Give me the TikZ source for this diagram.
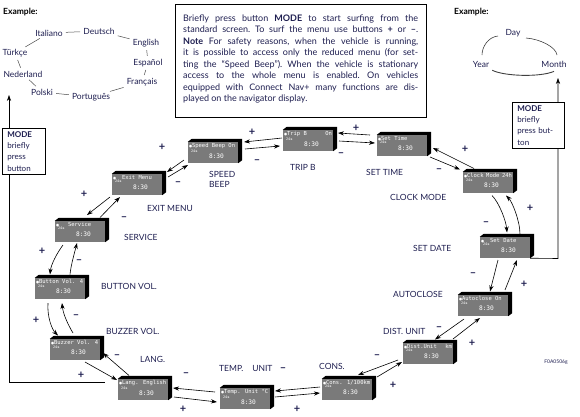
\documentclass[tikz,border=0pt]{standalone}
\usepackage{fontspec}
\setmainfont{Lato}
\newfontfamily\lcdf{DejaVu Sans Mono}
\newfontfamily\symf{DejaVu Sans}
\usetikzlibrary{calc,arrows.meta}
\definecolor{ink}{RGB}{30,30,80}
\definecolor{lcdgray}{RGB}{122,122,122}
\newcommand\lcd[1]{%
 \parbox[t][19pt][t]{48pt}{\lcdf\fontsize{5.5}{5.5}\selectfont
 \leavevmode{\symf\fontsize{3.5}{3.5}\selectfont ●}#1\par
 \vspace{0.3pt}{\fontsize{3.5}{3.5}\selectfont\hspace*{2pt}24\,{\symf ▸}\par}
 \vspace{1pt}\hspace*{20pt}{\fontsize{6.2}{6.2}\selectfont 8:30}\par}}
\begin{document}
\begin{tikzpicture}[x=1pt,y=-1pt,
 disp/.style={fill=lcdgray, minimum width=50pt, minimum height=21pt, inner sep=1pt, text=white},
 arr/.style={line width=0.6pt, -{Stealth[length=6pt,width=4.2pt]}},
 lab/.style={text=ink, font=\fontsize{8.5}{10.5}\selectfont, inner sep=0pt, anchor=west, align=left},
 pm/.style={text=ink, font=\fontsize{11}{11}\selectfont\bfseries, inner sep=0pt},
 exw/.style={text=ink, font=\fontsize{8.5}{10}\selectfont, inner sep=1pt},
 exl/.style={draw=black!70, line width=0.5pt, shorten <=2pt, shorten >=2pt},
 exarc/.style={draw=black!75, line width=0.6pt},
 modebox/.style={draw, fill=white, line width=0.7pt, anchor=north west, inner xsep=5pt, inner ysep=3pt, align=left, font=\fontsize{8}{11.3}\selectfont, text=ink}]
\useasboundingbox (0,0) rectangle (580,416);

% ---------- example left ----------
\node[font=\fontsize{8.5}{10}\selectfont\bfseries, anchor=west, inner sep=0] (exL) at (3,12) {Example:};
\node[exw] (ital) at (49,33) {Italiano};
\node[exw] (deut) at (99,31) {Deutsch};
\node[exw] (engl) at (146,43) {English};
\node[exw] (espa) at (148,63) {Español};
\node[exw] (fran) at (142,82) {Français};
\node[exw] (port) at (91,97) {Português};
\node[exw] (pols) at (42,92) {Polski};
\node[exw] (nede) at (23,74) {Nederland};
\node[exw] (turk) at (15,53) {Türkçe};
\draw[exl] (ital) -- (deut);
\draw[exl] (deut) -- (engl);
\draw[exl] (engl) -- (espa);
\draw[exl] (espa) -- (fran);
\draw[exl] (fran) -- (port);
\draw[exl] (port) -- (pols);
\draw[exl] (pols) -- (nede);
\draw[exl] (nede) -- (turk);
\draw[exl] (turk) -- (ital);

% ---------- example right ----------
\node[font=\fontsize{8.5}{10}\selectfont\bfseries, anchor=west, inner sep=0] (exR) at (454,12) {Example:};
\node[exw] (day) at (513,33) {Day};
\node[exw] (year) at (481,64) {Year};
\node[exw] (month) at (554,64) {Month};
\draw[exarc] ($(day)+(-15,3)$) .. controls +(-10,1) and +(0,-8) .. ($(year)+(1,-9)$);
\draw[exarc] ($(day)+(13,5)$) .. controls +(14,1) and +(-1,-8) .. ($(month)+(3,-9)$);
\draw[black!75, line width=0.9pt] ($(year.south east)+(2,2)$) .. controls +(12,6) and +(-14,6) .. ($(month.south)+(0,3)$);

% ---------- info box ----------
\node[draw, line width=0.8pt, anchor=north west, minimum width=251pt, minimum height=113pt, inner sep=0] (info) at (175,4) {};
\node[anchor=north west, text width=235pt, inner sep=0, align=justify, text=ink, font=\fontsize{9}{11.5}\selectfont\frenchspacing] (infotext) at (183,14.5)
{Briefly press button \textbf{MODE} to start surfing from the\linebreak
standard screen. To surf the menu use buttons \textbf{+} or \textbf{--}.\linebreak
\textbf{Note} For safety reasons, when the vehicle is running,\linebreak
it is possible to access only the reduced menu (for set-\linebreak
ting the “Speed Beep”). When the vehicle is stationary\linebreak
access to the whole menu is enabled. On vehicles\linebreak
equipped with Connect Nav+ many functions are dis-\linebreak
played on the navigator display.};

% ---------- displays ----------
\node[disp] (speed) at (213,152.5) {\lcd{Speed Beep On}};
\node[disp] (trip) at (308,140.5) {\lcd{Trip B\hfill On}};
\node[disp] (settime) at (402,145.5) {\lcd{Set Time}};
\node[disp] (clock) at (488,182.5) {\lcd{Clock Mode 24h}};
\node[disp] (exit) at (137,184.5) {\lcd{\hspace*{6pt}Exit Menu}};
\node[disp] (service) at (80,231.5) {\lcd{\hspace*{9pt}Service}};
\node[disp] (button) at (60,288.5) {\lcd{Button Vol. 4}};
\node[disp] (buzzer) at (75,349.5) {\lcd{Buzzer Vol. 4}};
\node[disp] (lang) at (143,389.5) {\lcd{Lang. English}};
\node[disp] (temp) at (245,398.5) {\lcd{Temp. Unit °C}};
\node[disp] (cons) at (347,389.5) {\lcd{Cons. 1/100km}};
\node[disp] (dist) at (428,353.5) {\lcd{Dist.Unit\hfill km}};
\node[disp] (autoclose) at (483,305.5) {\lcd{Autoclose On}};
\node[disp] (setdate) at (505,247.5) {\lcd{\hspace*{6pt}Set Date}};
\foreach \n in {speed,trip,settime,clock,exit,service,button,buzzer,lang,temp,cons,dist,autoclose,setdate}
 \fill[black] (\n.north west) -- ++(4,-3) -- ($(\n.north east)+(4,-3)$) -- ($(\n.south east)+(4,-3)$) -- (\n.south east) -- (\n.north east) -- cycle;

% ---------- arrows ----------
\draw[arr] ($(speed)+(-29,7.5)$) -- ($(exit)+(30,-12.5)$);
\draw[arr] ($(exit)+(31,-7.5)$) -- ($(speed)+(-25,12.5)$);
\draw[arr] ($(trip)+(-26,-2.5)$) -- ($(speed)+(31,-10.5)$);
\draw[arr] ($(speed)+(32,-3.5)$) -- ($(trip)+(-28,5.5)$);
\draw[arr] ($(settime)+(-32,-10.5)$) -- ($(trip)+(30,-7.5)$);
\draw[arr] ($(trip)+(31,0.5)$) -- ($(settime)+(-27,-2.5)$);
\draw[arr] ($(clock)+(-14,-14)$) -- ($(settime)+(31,2.5)$);
\draw[arr] ($(settime)+(28,11.5)$) -- ($(clock)+(-28,-13)$);
\draw[arr] ($(clock)+(4,13)$) .. controls +(7,7) and +(-1,-12) .. ($(setdate)+(2,-15)$);
\draw[arr] ($(setdate)+(15,-13)$) .. controls +(0,-14) and +(6,6) .. ($(clock)+(18,13)$);
\draw[arr] ($(setdate)+(-7,12.5)$) -- ($(autoclose)+(7,-14)$);
\draw[arr] ($(autoclose)+(22,-15.5)$) -- ($(setdate)+(12,12.5)$);
\draw[arr] ($(autoclose)+(-19,13.5)$) -- ($(dist)+(7,-14)$);
\draw[arr] ($(dist)+(25,-14.5)$) -- ($(autoclose)+(-3,12.5)$);
\draw[arr] ($(dist)+(-30,6.5)$) -- ($(cons)+(11,-14.5)$);
\draw[arr] ($(cons)+(30,-12.5)$) -- ($(dist)+(-26,8.5)$);
\draw[arr] ($(cons)+(-27,-2.5)$) -- ($(temp)+(30,-7.5)$);
\draw[arr] ($(temp)+(30,-1.5)$) -- ($(cons)+(-27,3.5)$);
\draw[arr] ($(temp)+(-30,-6.5)$) -- ($(lang)+(30,-1.5)$);
\draw[arr] ($(lang)+(31,7.5)$) -- ($(temp)+(-28,3.5)$);
\draw[arr] ($(lang)+(-14,-14)$) -- ($(buzzer)+(28,3.5)$);
\draw[arr] ($(buzzer)+(10,12.5)$) -- ($(lang)+(-26,-9.5)$);
\draw[arr] ($(button)+(-12,14.5)$) .. controls +(-1,14) and +(-6,-6) .. ($(buzzer)+(-17,-14)$);
\draw[arr] ($(buzzer)+(-2,-16.5)$) .. controls +(-6,-10) and +(1,10) .. ($(button)+(2,14.5)$);
\draw[arr] ($(service)+(-17,13.5)$) .. controls +(-6,8) and +(1,-10) .. ($(button)+(-10,-14)$);
\draw[arr] ($(button)+(10,-14)$) .. controls +(1,-10) and +(-2,8) .. ($(service)+(-3,11.5)$);
\draw[arr] ($(exit)+(-27,12.5)$) -- ($(service)+(7,-16.5)$);
\draw[arr] ($(service)+(20,-14)$) -- ($(exit)+(-17,12.5)$);

% ---------- plus / minus ----------
\foreach \p [count=\i] in {(252,132),(162,147),(356,128),(465,149),(84,194),(42,251),(36,320),(81,375),(183,409.5),(297,409.5),(393,385),(472,343),(524,284),(530,208)}
 \node[pm] (plus\i) at \p {+};
\foreach \p [count=\i] in {(257,162),(178,184),(341,155),(439,171),(124,219),(79,262),(76,317),(117,357),(186,375),(283,370),(377,357),(439,329),(473,275),(486,224)}
 \node[pm] (minus\i) at \p {--};

% ---------- labels ----------
\node[lab] (lspeed) at (209,179.5) {SPEED\\BEEP};
\node[lab] (ltrip) at (290,167) {TRIP B};
\node[lab] (lsettime) at (366,172.5) {SET TIME};
\node[lab] (lclock) at (390,197.5) {CLOCK MODE};
\node[lab] (lexit) at (147,208.5) {EXIT MENU};
\node[lab] (lservice) at (124,237.5) {SERVICE};
\node[lab] (lbutton) at (101,286) {BUTTON VOL.};
\node[lab] (lbuzzer) at (106,331.5) {BUZZER VOL.};
\node[lab] (llang) at (140,359.5) {LANG.};
\node[lab] (ltemp) at (219,368.5) {TEMP.\hspace{9pt}UNIT};
\node[lab] (lcons) at (319,366) {CONS.};
\node[lab] (ldist) at (383,331.5) {DIST. UNIT};
\node[lab] (lauto) at (393,294.5) {AUTOCLOSE};
\node[lab] (ldate) at (413,248.5) {SET DATE};
\node[text=ink, font=\fontsize{5}{5}\selectfont, inner sep=0] (figcode) at (556,362) {F0A0506g};

% ---------- MODE paths ----------
\coordinate (exarrow) at (9,95);
\coordinate (mtip) at (558,78);
\draw[arr] ($(lang.west)+(-13,-7)$) -- (9,382.5) -- (exarrow);
\draw[arr] (setdate.south east) -- (558,258.5) -- (mtip);
\node[modebox, text width=33pt] (modeL) at (2,128) {\textbf{MODE}\\briefly\\press\\button};
\node[modebox, text width=42pt] (modeR) at (512,102) {\textbf{MODE}\\briefly\\press but-\\ton};
\end{tikzpicture}
\end{document}
